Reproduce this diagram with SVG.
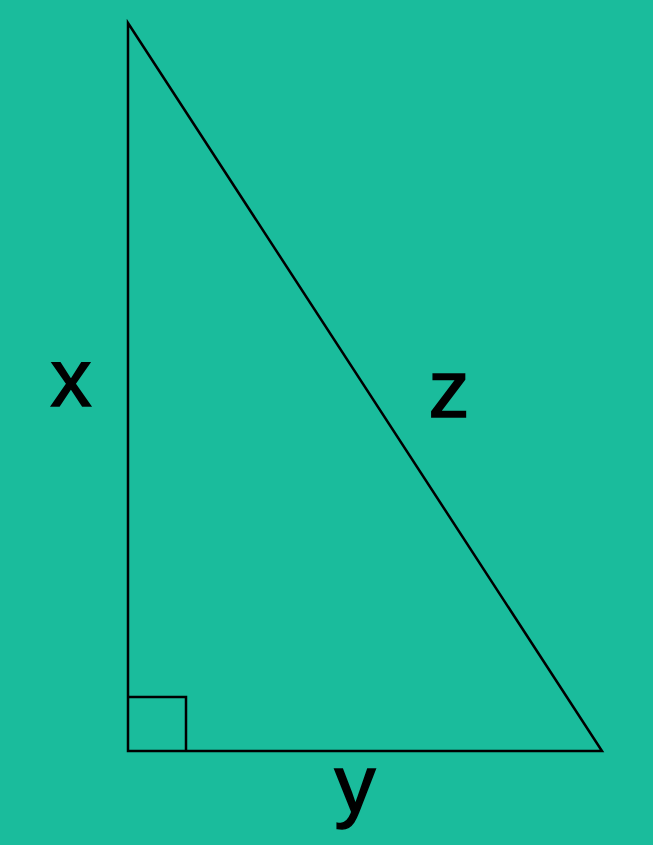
<svg xmlns="http://www.w3.org/2000/svg" width="653" height="845" viewBox="0 0 653 845">
<style>
.ln{fill:none;stroke:#000;stroke-width:2.5;stroke-linejoin:miter}
.lb{font-family:"Liberation Sans",Arial,sans-serif;font-size:82px;fill:#000;stroke:#000;stroke-width:1.5;text-anchor:middle}
</style>
<rect width="653" height="845" fill="#1ABC9C"/>
<g id="triangle">
<path class="ln" d="M128,23 L128,751 L602,751 Z"/>
<path class="ln" d="M128,697 L186,697 L186,751"/>
</g>
<g id="labels">
<text class="lb" x="71" y="406">x</text>
<text class="lb" x="449" y="417">z</text>
<text class="lb" x="355" y="812">y</text>
</g>
</svg>
